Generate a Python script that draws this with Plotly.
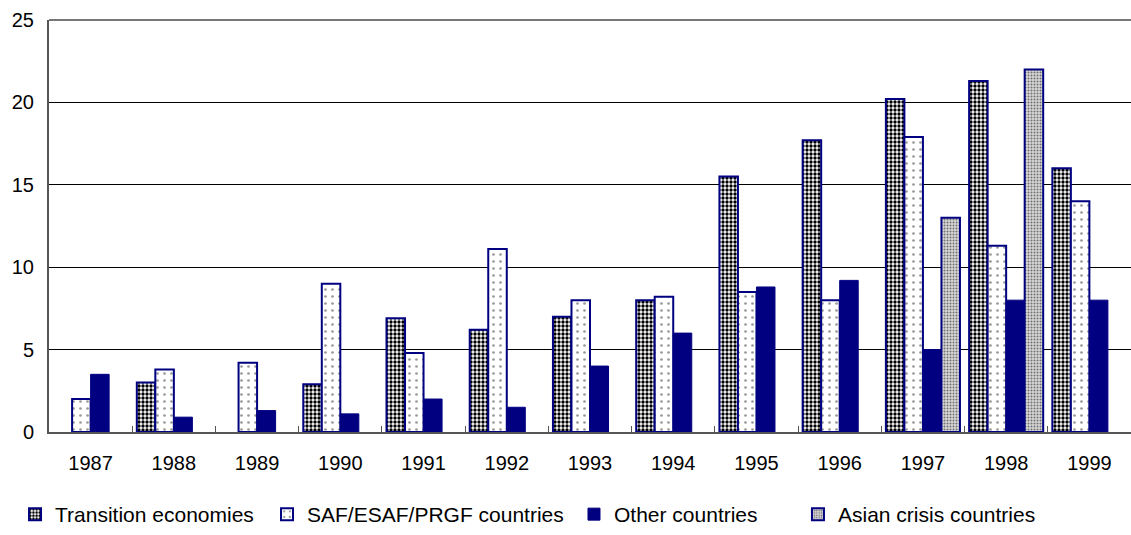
import plotly.graph_objects as go

years = ["1987", "1988", "1989", "1990", "1991", "1992", "1993",
         "1994", "1995", "1996", "1997", "1998", "1999"]
transition = [None, 3.0, None, 2.9, 6.9, 6.2, 7.0, 8.0, 15.5, 17.7, 20.2, 21.3, 16.0]
saf_esaf_prgf = [2.0, 3.8, 4.2, 9.0, 4.8, 11.1, 8.0, 8.2, 8.5, 8.0, 17.9, 11.3, 14.0]
other = [3.5, 0.9, 1.3, 1.1, 2.0, 1.5, 4.0, 6.0, 8.8, 9.2, 5.0, 8.0, 8.0]
asian_crisis = [None, None, None, None, None, None, None, None, None, None, 13.0, 22.0, None]

NAVY = "#000080"
FONT = "Liberation Sans, Arial, sans-serif"

fig = go.Figure()
fig.add_trace(go.Bar(
    name="Transition economies", x=years, y=transition, legend="legend",
    marker=dict(color="white", line=dict(color=NAVY, width=2),
                pattern=dict(shape=".", fgcolor="black", bgcolor="white",
                             size=4, solidity=0.55, fillmode="replace")),
))
fig.add_trace(go.Bar(
    name="SAF/ESAF/PRGF countries", x=years, y=saf_esaf_prgf, legend="legend2",
    marker=dict(color="white", line=dict(color=NAVY, width=2),
                pattern=dict(shape=".", fgcolor="#999999", bgcolor="white",
                             size=7, solidity=0.12, fillmode="replace")),
))
fig.add_trace(go.Bar(
    name="Other countries", x=years, y=other, legend="legend3",
    marker=dict(color=NAVY, line=dict(color=NAVY, width=1)),
))
fig.add_trace(go.Bar(
    name="Asian crisis countries", x=years, y=asian_crisis, legend="legend4",
    marker=dict(color="#c8c8c8", line=dict(color=NAVY, width=2),
                pattern=dict(shape=".", fgcolor="#707070", bgcolor="#d8d8d8",
                             size=3, solidity=0.35, fillmode="replace")),
))

legend_style = dict(orientation="h", xanchor="left",
                    yref="container", y=-0.009, yanchor="bottom",
                    font=dict(family=FONT, size=21, color="black"),
                    bgcolor="rgba(0,0,0,0)", itemwidth=30)

fig.update_layout(
    width=1131, height=535,
    margin=dict(l=49, r=0, t=20, b=103, autoexpand=False),
    paper_bgcolor="white", plot_bgcolor="white",
    barmode="group", bargap=0.11, bargroupgap=0,
    font=dict(family=FONT, size=20, color="black"),
    showlegend=True,
    legend=dict(x=-0.0314, **legend_style),
    legend2=dict(x=0.2015, **legend_style),
    legend3=dict(x=0.4852, **legend_style),
    legend4=dict(x=0.6922, **legend_style),
)
fig.update_xaxes(
    type="category", showline=True, linecolor="#555555", linewidth=2,
    ticks="inside", tickson="boundaries", ticklen=6, tickcolor="#555555",
    showgrid=False, automargin=False, ticklabelstandoff=12,
)
fig.update_yaxes(
    range=[0, 25], dtick=5, showline=True, linecolor="#555555", linewidth=2,
    showgrid=True, gridcolor="black", gridwidth=1, zeroline=False,
    ticks="", ticklabelstandoff=9, automargin=False,
)
# top border line of the plot frame
fig.add_shape(type="line", xref="paper", yref="paper", x0=0, x1=1, y0=1, y1=1,
              line=dict(color="#777777", width=2))

fig.write_html("out.html")
